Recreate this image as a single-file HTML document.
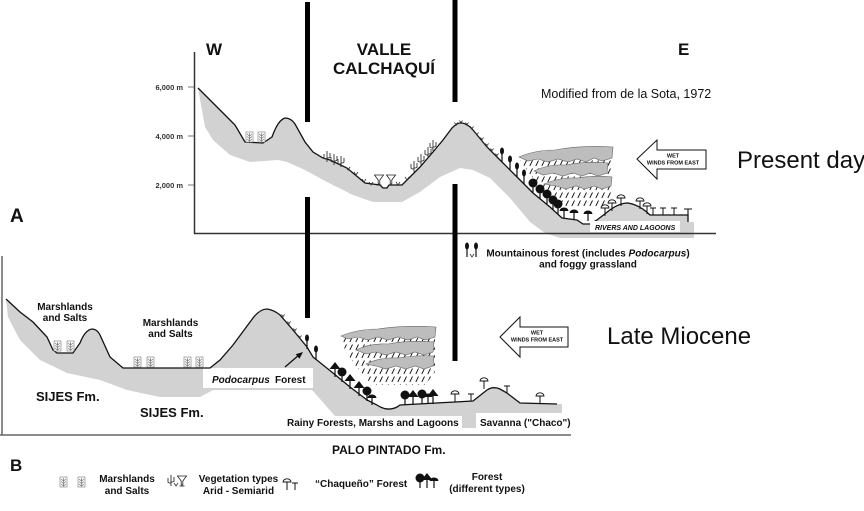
<!DOCTYPE html>
<html><head><meta charset="utf-8">
<style>
html,body{margin:0;padding:0;background:#fff;}
svg{display:block;}
text{font-family:"Liberation Sans",Arial,sans-serif;fill:#111;}
.b{font-weight:bold;}
</style></head><body>
<svg width="864" height="511" viewBox="0 0 864 511" xmlns="http://www.w3.org/2000/svg">
<defs>
<pattern id="rain" width="6" height="8" patternUnits="userSpaceOnUse">
 <line x1="4.5" y1="0.5" x2="1.8" y2="6" stroke="#111" stroke-width="0.9"/>
</pattern>
<g id="marsh">
 <rect x="0" y="0" width="7" height="10" fill="#fff" stroke="#888" stroke-width="0.7"/>
 <path d="M1,2 L3.5,4 L6,2 M1,4.5 L3.5,6.5 L6,4.5 M1,7 L3.5,9 L6,7 M3.5,1 V9.5" fill="none" stroke="#777" stroke-width="0.7"/>
</g>
<g id="lolli"><ellipse cx="0" cy="-11" rx="2" ry="3.5" fill="#111"/><line x1="0" y1="-9" x2="0" y2="0" stroke="#111" stroke-width="1.2"/></g>
<g id="round"><circle cx="0" cy="-10" r="4.5" fill="#111"/><line x1="0" y1="-6" x2="0" y2="0" stroke="#111" stroke-width="1.2"/></g>
<g id="umb"><path d="M-4.5,-7 A4.5,3.5 0 0 1 4.5,-7 Z" fill="#111"/><line x1="0" y1="-7" x2="0" y2="0" stroke="#111" stroke-width="1.2"/></g>
<g id="umbw"><path d="M-4,-8 A4,3.2 0 0 1 4,-8 Z" fill="#fff" stroke="#111" stroke-width="0.9"/><line x1="0" y1="-8" x2="0" y2="0" stroke="#111" stroke-width="1"/></g>
<g id="pine"><path d="M0,-15 L5.5,-8 L-5.5,-8 Z" fill="#111"/><line x1="0" y1="-8" x2="0" y2="0" stroke="#111" stroke-width="1.2"/></g>
<g id="tee"><path d="M-3,-7 H3 M0,-7 V0" stroke="#111" stroke-width="1" fill="none"/></g>
<g id="cact"><path d="M0,0 V-11 M-3,-8 V-4 Q-3,-3 0,-3 M3,-9 V-5 Q3,-4 0,-4" stroke="#333" stroke-width="0.9" fill="none"/></g>
<g id="vg"><path d="M-2,-3 L0,0 L2,-3" stroke="#333" stroke-width="0.8" fill="none"/></g>
<g id="yg"><path d="M-1.6,-3.5 L0,-1.5 L1.6,-3.5 M0,-1.5 V0" stroke="#333" stroke-width="0.8" fill="none"/></g>
<g id="gob"><path d="M-4.5,-10 H4.5 L0.8,-5 V-1 H-0.8 V-5 Z" fill="#fff" stroke="#222" stroke-width="0.8"/><path d="M-2.5,0 H2.5" stroke="#222" stroke-width="0.8"/></g>
</defs>

<!-- ============ TOP PANEL ============ -->
<path d="M198,88 L223,113 L235,125 L245,142 L263,143 L272,137 Q278,120 285,118 Q291,118 295,124 L305,142 L313,152 L323,158 L330,160 L347,168 L365,183 L380,185 L383,188 L387,188 L389,185 L402,185 L407,180 L420,167 L433,152 L443,140 L452,128 Q458,122 462,123 Q468,124 473,130 L487,147 L500,160 L513,173 L533,193 L550,207 L562,218 L577,220 L583,224 L590,224 L597,220 L606,213 Q618,203 628,203 Q640,205 650,215 L688,215 L688,222 L694,222 L694,238 L560,238 L545,233 L530,222 L510,198 L490,178 L473,170 L460,168 L440,177 L420,192 L402,202 L373,202 L353,195 L327,182 L305,170 L287,162 L278,160 L250,162 L230,155 L213,140 L205,127 Z" fill="#d2d2d2"/>
<path d="M198,88 L223,113 L235,125 L245,142 L263,143 L272,137 Q278,120 285,118 Q291,118 295,124 L305,142 L313,152 L323,158 L330,160 L347,168 L365,183 L380,185 L383,188 L387,188 L389,185 L402,185 L407,180 L420,167 L433,152 L443,140 L452,128 Q458,122 462,123 Q468,124 473,130 L487,147 L500,160 L513,173 L533,193 L550,207 L562,218 L577,220 L583,224 L590,224 L597,220 L606,213 Q618,203 628,203 Q640,205 650,215 L688,215 L688,222" fill="none" stroke="#111" stroke-width="1.3"/>

<rect x="590" y="221" width="90" height="11" fill="#fff"/>
<text x="595" y="230" font-size="7" class="b" font-style="italic">RIVERS AND  LAGOONS</text>

<line x1="194.5" y1="52" x2="194.5" y2="234" stroke="#333" stroke-width="1.5"/>
<line x1="194" y1="233.5" x2="716" y2="233.5" stroke="#333" stroke-width="1.5"/>
<line x1="188" y1="87" x2="194" y2="87" stroke="#777" stroke-width="1"/>
<line x1="188" y1="136" x2="194" y2="136" stroke="#777" stroke-width="1"/>
<line x1="188" y1="185" x2="194" y2="185" stroke="#777" stroke-width="1"/>
<text x="183" y="90" font-size="7.5" class="b" text-anchor="end" style="fill:#333">6,000 m</text>
<text x="183" y="139" font-size="7.5" class="b" text-anchor="end" style="fill:#333">4,000 m</text>
<text x="183" y="188" font-size="7.5" class="b" text-anchor="end" style="fill:#333">2,000 m</text>

<rect x="305" y="2" width="5" height="120" fill="#000"/>
<rect x="305" y="197" width="5" height="121" fill="#000"/>
<rect x="452.5" y="0" width="5" height="102" fill="#000"/>
<rect x="452.5" y="184" width="5" height="177" fill="#000"/>

<text x="206" y="55" font-size="17" class="b">W</text>
<text x="384" y="55" font-size="17" class="b" text-anchor="middle">VALLE</text>
<text x="384" y="74" font-size="17" class="b" text-anchor="middle">CALCHAQUÍ</text>
<text x="678" y="55" font-size="17" class="b">E</text>
<text x="541" y="98" font-size="12.5">Modified from de la Sota, 1972</text>
<text x="737" y="168" font-size="24">Present day</text>
<text x="10" y="222" font-size="19" class="b">A</text>

<use href="#marsh" x="246" y="132"/>
<use href="#marsh" x="258" y="132"/>
<use href="#cact" x="327" y="162"/>
<use href="#cact" x="334" y="165"/>
<use href="#cact" x="341" y="167"/>
<use href="#vg" x="348" y="170"/>
<use href="#vg" x="356" y="175"/>
<use href="#vg" x="364" y="182"/>
<use href="#vg" x="371" y="185"/>
<use href="#gob" x="379" y="185"/>
<use href="#gob" x="391" y="185"/>
<use href="#vg" x="398" y="185"/>
<use href="#vg" x="407" y="180"/>
<use href="#cact" x="414" y="172"/>
<use href="#cact" x="421" y="165"/>
<use href="#cact" x="428" y="158"/>
<use href="#cact" x="433" y="151"/>
<use href="#yg" x="456" y="126"/>
<use href="#yg" x="461" y="124"/>
<use href="#yg" x="467" y="126"/>
<use href="#yg" x="472" y="130"/>
<use href="#yg" x="477" y="136"/>
<use href="#yg" x="482" y="141"/>
<use href="#yg" x="487" y="147"/>
<use href="#yg" x="492" y="152"/>
<use href="#yg" x="497" y="157"/>
<use href="#lolli" x="502" y="162"/>
<use href="#lolli" x="510" y="170"/>
<use href="#lolli" x="517" y="177"/>
<use href="#lolli" x="524" y="184"/>

<path d="M520,160 L612,160 L612,200 L605,208 L560,208 L545,190 L530,175 Z" fill="url(#rain)"/>
<path d="M519,157 Q535,150 555,150 Q580,145 613,147 L612,158 L602,161 L594,158 L586,162 L577,159 L568,162 L558,159 L548,162 L538,159 L528,161 Z" fill="#bdbdbd" stroke="#666" stroke-width="0.6"/>
<path d="M534,171 Q548,164 565,165 Q588,161 608,163 L607,173 L598,176 L590,173 L582,176 L573,173 L563,176 L553,173 L543,175 Z" fill="#bdbdbd" stroke="#666" stroke-width="0.6"/>
<path d="M544,184 Q560,177 578,178 Q596,175 612,177 L611,186 L602,189 L594,186 L585,189 L576,186 L566,189 L556,186 Z" fill="#bdbdbd" stroke="#666" stroke-width="0.6"/>

<use href="#round" x="533" y="193"/>
<use href="#round" x="540" y="199"/>
<use href="#round" x="547" y="204"/>
<use href="#round" x="553" y="210"/>
<use href="#round" x="558" y="214"/>
<use href="#umb" x="564" y="218"/>
<use href="#umb" x="574" y="220"/>
<use href="#umb" x="588" y="221"/>
<use href="#umbw" x="605" y="216"/>
<use href="#umbw" x="612" y="211"/>
<use href="#umbw" x="621" y="206"/>
<use href="#umbw" x="640" y="209"/>
<use href="#umbw" x="647" y="214"/>
<use href="#tee" x="653" y="215"/>
<use href="#tee" x="663" y="215"/>
<use href="#tee" x="674" y="215"/>
<path d="M684,209 H692 M688,209 V215" stroke="#111" stroke-width="1.1" fill="none"/>

<path d="M637,159 L657,140 L657,150 L706,150 L706,169 L657,169 L657,179 Z" fill="#fff" stroke="#111" stroke-width="1"/>
<text x="673" y="157.5" font-size="5.5" class="b" text-anchor="middle">WET</text>
<text x="673" y="164.5" font-size="5.5" class="b" text-anchor="middle">WINDS FROM EAST</text>

<use href="#lolli" x="467" y="257"/>
<use href="#vg" x="472" y="257"/>
<use href="#lolli" x="476" y="257"/>
<text x="588" y="256.5" font-size="10" class="b" text-anchor="middle">Mountainous forest (includes <tspan font-style="italic">Podocarpus</tspan>)</text>
<text x="588" y="267.5" font-size="10" class="b" text-anchor="middle">and foggy grassland</text>

<!-- ============ BOTTOM PANEL ============ -->
<path d="M6,299 L20,312 L33,322 L47,337 L53,350 L57,353 L73,353 L80,343 Q85,330 92,329 Q97,329 100,335 L110,357 L123,368 L210,368 L220,360 L233,345 L253,318 Q260,309 267,309 Q274,310 280,315 L293,330 L307,347 L313,357 L333,373 L350,387 L367,400 L377,405 Q387,412 397,407 L400,405 L473,401 L487,390 Q493,386 500,389 L507,393 L520,403 L557,404 L562,404 L562,428 L462,428 L462,416 L335,416 L312,390 L213,390 L200,397 L160,397 L127,390 L100,380 L67,373 L40,360 L20,340 L8,317 Z" fill="#d2d2d2"/>
<rect x="203" y="368" width="110" height="20" fill="#fff"/>
<rect x="283" y="416" width="179" height="13" fill="#fff"/>
<rect x="476" y="413" width="98" height="16" fill="#fff"/>
<path d="M6,299 L20,312 L33,322 L47,337 L53,350 L57,353 L73,353 L80,343 Q85,330 92,329 Q97,329 100,335 L110,357 L123,368 L210,368 L220,360 L233,345 L253,318 Q260,309 267,309 Q274,310 280,315 L293,330 L307,347 L313,357 L333,373 L350,387 L367,400 L377,405 Q387,412 397,407 L400,405 L473,401 L487,390 Q493,386 500,389 L507,393 L520,403 L557,404" fill="none" stroke="#111" stroke-width="1.3"/>

<line x1="2" y1="256" x2="2" y2="435" stroke="#666" stroke-width="1.5"/>
<line x1="0" y1="435" x2="571" y2="435" stroke="#666" stroke-width="1.5"/>

<use href="#marsh" x="54" y="341"/>
<use href="#marsh" x="67" y="341"/>
<use href="#marsh" x="134" y="357"/>
<use href="#marsh" x="147" y="357"/>
<use href="#marsh" x="184" y="357"/>
<use href="#marsh" x="196" y="357"/>

<use href="#yg" x="283" y="318"/>
<use href="#yg" x="289" y="325"/>
<use href="#yg" x="295" y="332"/>
<use href="#yg" x="300" y="339"/>
<use href="#lolli" x="307" y="349"/>
<use href="#lolli" x="316" y="360"/>

<line x1="285" y1="367" x2="299" y2="355" stroke="#111" stroke-width="1.3"/>
<path d="M303,352 L299.5,358.8 L295.7,354.2 Z" fill="#111"/>

<path d="M342,338 L435,338 L435,372 L425,385 L372,385 L355,365 L345,350 Z" fill="url(#rain)"/>
<path d="M341,336 Q358,329 378,329 Q405,325 436,327 L435,337 L425,340 L417,337 L408,340 L398,337 L388,340 L378,337 L368,340 L358,337 L348,339 Z" fill="#bdbdbd" stroke="#666" stroke-width="0.6"/>
<path d="M356,350 Q370,343 388,344 Q410,340 434,342 L433,352 L424,355 L415,352 L406,355 L396,352 L386,355 L376,352 L366,354 Z" fill="#bdbdbd" stroke="#666" stroke-width="0.6"/>
<path d="M366,364 Q380,357 398,358 Q416,355 434,356 L433,366 L424,369 L415,366 L406,369 L396,366 L386,369 L376,366 Z" fill="#bdbdbd" stroke="#666" stroke-width="0.6"/>

<use href="#pine" x="335" y="377"/>
<use href="#round" x="342" y="382"/>
<use href="#pine" x="350" y="389"/>
<use href="#pine" x="359" y="396"/>
<use href="#round" x="367" y="401"/>
<use href="#umb" x="372" y="405"/>
<use href="#round" x="405" y="405"/>
<use href="#pine" x="413" y="405"/>
<use href="#round" x="422" y="404"/>
<use href="#umb" x="428" y="404"/>
<use href="#pine" x="433" y="404"/>
<use href="#umbw" x="455" y="402"/>
<use href="#tee" x="471" y="401"/>
<use href="#umbw" x="484" y="389"/>
<use href="#tee" x="507" y="393"/>
<use href="#umbw" x="540" y="404"/>

<path d="M500,337 L520,317 L520,327 L568,327 L568,347 L520,347 L520,357 Z" fill="#fff" stroke="#111" stroke-width="1"/>
<text x="537" y="334.5" font-size="5.5" class="b" text-anchor="middle">WET</text>
<text x="537" y="341.5" font-size="5.5" class="b" text-anchor="middle">WINDS FROM EAST</text>
<text x="607" y="344" font-size="24">Late Miocene</text>

<text x="65" y="310" font-size="10" class="b" text-anchor="middle">Marshlands</text>
<text x="65" y="321" font-size="10" class="b" text-anchor="middle">and Salts</text>
<text x="170.5" y="326" font-size="10" class="b" text-anchor="middle">Marshlands</text>
<text x="170.5" y="337" font-size="10" class="b" text-anchor="middle">and Salts</text>
<text x="36" y="401" font-size="13" class="b">SIJES Fm.</text>
<text x="140" y="417" font-size="13" class="b">SIJES Fm.</text>
<text x="212" y="383" font-size="10" class="b" font-style="italic">Podocarpus</text>
<text x="275" y="383" font-size="10" class="b">Forest</text>
<text x="287" y="426" font-size="10" class="b">Rainy Forests, Marshs and Lagoons</text>
<text x="480" y="426" font-size="10" class="b">Savanna ("Chaco")</text>
<text x="332" y="454" font-size="12" class="b">PALO PINTADO Fm.</text>
<text x="10" y="471" font-size="17" class="b">B</text>

<use href="#marsh" x="60" y="477"/>
<use href="#marsh" x="78" y="477"/>
<text x="127" y="482" font-size="10" class="b" text-anchor="middle">Marshlands</text>
<text x="127" y="494" font-size="10" class="b" text-anchor="middle">and Salts</text>
<use href="#cact" x="171" y="486"/>
<use href="#vg" x="176" y="486"/>
<use href="#gob" x="182" y="486"/>
<text x="238.5" y="482" font-size="10" class="b" text-anchor="middle">Vegetation types</text>
<text x="238.5" y="494" font-size="10" class="b" text-anchor="middle">Arid - Semiarid</text>
<use href="#umbw" x="287" y="490"/>
<use href="#tee" x="295" y="490"/>
<text x="315" y="487" font-size="10" class="b">“Chaqueño” Forest</text>
<use href="#round" x="420" y="488"/>
<use href="#pine" x="427" y="488"/>
<use href="#umb" x="434" y="488"/>
<text x="487" y="480" font-size="10" class="b" text-anchor="middle">Forest</text>
<text x="487" y="492" font-size="10" class="b" text-anchor="middle">(different types)</text>
</svg>
</body></html>
